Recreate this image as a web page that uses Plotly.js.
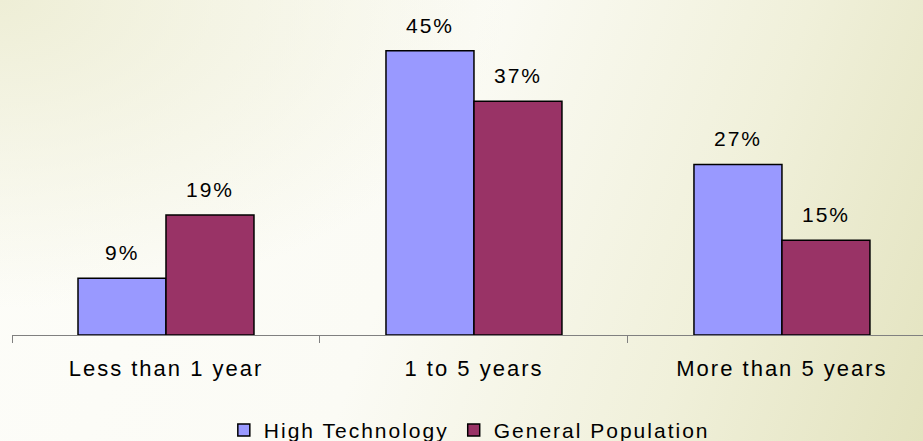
<!DOCTYPE html>
<html>
<head>
<meta charset="utf-8">
<script src="https://cdn.plot.ly/plotly-3.0.1.min.js"></script>
<style>
  html, body { margin: 0; padding: 0; }
  #chart {
    width: 923px; height: 441px;
    background:
      radial-gradient(ellipse 55% 70% at 0% 0%, rgba(238,238,214,1) 0%, rgba(238,238,214,0) 100%),
      linear-gradient(110deg, #fdfdf9 0%, #fbfbf5 45%, #f0f0da 75%, #e3e3bf 100%);
  }
  svg text { letter-spacing: 2px; }
</style>
</head>
<body>
<div id="chart"></div>
<script>
const categories = ["Less than 1 year", "1 to 5 years", "More than 5 years"];
const highTech = [9, 45, 27];
const generalPop = [19, 37, 15];
const seriesNames = ["High Technology", "General Population"];

const fontFam = "Liberation Sans, Arial, sans-serif";

const traces = [
  {
    type: "bar", name: seriesNames[0], x: categories, y: highTech,
    marker: { color: "#9999FF", line: { color: "#000000", width: 1.5 } },
    hoverinfo: "skip"
  },
  {
    type: "bar", name: seriesNames[1], x: categories, y: generalPop,
    marker: { color: "#993366", line: { color: "#000000", width: 1.5 } },
    hoverinfo: "skip"
  }
];

const annotations = [];
[highTech, generalPop].forEach((vals, si) => {
  vals.forEach((v, i) => {
    annotations.push({
      x: categories[i], y: v, xref: "x", yref: "y",
      text: v + "%", showarrow: false,
      xanchor: "center", yanchor: "bottom",
      xshift: si === 0 ? -44 : 44, yshift: 12,
      font: { family: fontFam, size: 21, color: "#000000" }
    });
  });
});

const layout = {
  width: 923, height: 441,
  margin: { l: 12, r: 0, t: 10, b: 106, autoexpand: false },
  paper_bgcolor: "rgba(0,0,0,0)",
  plot_bgcolor: "rgba(0,0,0,0)",
  barmode: "group",
  bargap: 0.4286,
  bargroupgap: 0,
  showlegend: true,
  legend: {
    orientation: "h", x: 0.502, xanchor: "center", y: -0.23, yanchor: "top",
    font: { family: fontFam, size: 21, color: "#000000" },
    itemgap: 0, bgcolor: "rgba(0,0,0,0)"
  },
  xaxis: {
    type: "category", range: [-0.5, 2.458], automargin: false,
    showline: true, linecolor: "#808080", linewidth: 1,
    ticks: "outside", ticklen: 7, tickcolor: "#808080", tickwidth: 1,
    tickson: "boundaries", ticklabelstandoff: 14,
    showgrid: false, zeroline: false,
    tickfont: { family: fontFam, size: 22, color: "#000000" },
    fixedrange: true
  },
  yaxis: {
    range: [0, 51.44], visible: false, showgrid: false, zeroline: false, fixedrange: true
  },
  annotations: annotations,
  font: { family: fontFam }
};

Plotly.newPlot("chart", traces, layout, { displayModeBar: false, staticPlot: true });
</script>
</body>
</html>
